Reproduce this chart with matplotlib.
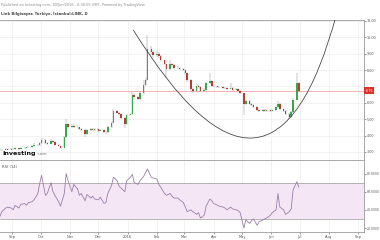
import numpy as np
import pandas as pd
import matplotlib
matplotlib.use("Agg")
import matplotlib.pyplot as plt
import matplotlib.dates as mdates
import matplotlib.transforms as mtransforms
from matplotlib.path import Path
from matplotlib.patches import PathPatch


# daily chart of Link Bilgisayar, sampled every 2nd trading day up to 30 Jun 2016
CLOSE = [3.10, 3.15, 3.12, 3.18, 3.15, 3.20, 3.17, 3.22, 3.20, 3.25,
         3.22, 3.28, 3.30, 3.35, 3.45, 3.40, 3.55, 3.75, 3.55, 3.50,
         3.70, 3.60, 3.45, 3.35, 3.25, 3.90, 4.70, 4.50, 4.60, 4.55,
         4.50, 4.40, 4.35, 4.10, 4.35, 4.40, 4.35, 4.38, 4.30, 4.35,
         4.25, 4.20, 4.50, 4.80, 5.50, 5.40, 5.30, 5.10, 4.70, 5.25,
         5.30, 6.50, 6.35, 6.25, 6.60, 7.10, 7.40, 9.30, 9.10, 8.90,
         9.00, 8.85, 8.60, 8.40, 8.05, 8.35, 8.30, 8.10, 8.15, 8.05,
         8.00, 7.80, 7.40, 6.85, 6.75, 7.05, 6.95, 6.75, 6.80, 7.20,
         7.35, 7.05, 7.00, 6.95, 6.95, 6.90, 6.92, 6.85, 6.90, 6.80,
         6.85, 6.75, 6.60, 5.90, 6.10, 5.95, 5.85, 5.75, 5.55, 5.50,
         5.55, 5.50, 5.55, 5.50, 5.55, 5.75, 5.95, 5.60, 5.50, 5.30,
         5.15, 5.45, 6.20, 7.20, 6.75]
HIGH = [3.18, 3.20, 3.20, 3.22, 3.22, 3.25, 3.24, 3.27, 3.26, 3.30,
        3.29, 3.33, 3.36, 3.42, 3.52, 3.50, 3.62, 3.88, 3.80, 3.60,
        3.78, 3.74, 3.64, 3.48, 3.38, 3.98, 5.00, 4.78, 4.70, 4.68,
        4.62, 4.55, 4.48, 4.40, 4.42, 4.48, 4.46, 4.45, 4.44, 4.42,
        4.40, 4.30, 4.58, 4.90, 5.65, 5.58, 5.45, 5.35, 5.15, 5.32,
        5.40, 6.68, 6.58, 6.42, 6.70, 7.40, 7.50, 10.15, 9.45, 9.20,
        9.15, 9.08, 8.92, 8.68, 8.45, 8.60, 8.42, 8.35, 8.24, 8.20,
        8.12, 8.05, 7.85, 7.45, 6.92, 7.15, 7.12, 7.00, 6.90, 7.30,
        7.80, 7.40, 7.10, 7.05, 7.02, 7.00, 6.98, 6.96, 7.20, 6.94,
        6.92, 6.90, 6.80, 6.62, 6.20, 6.15, 6.00, 5.90, 5.80, 5.60,
        5.62, 5.60, 5.60, 5.62, 5.60, 5.82, 6.10, 5.98, 5.65, 5.55,
        5.35, 5.52, 6.30, 7.80, 7.30]
LOW = [3.05, 3.07, 3.08, 3.10, 3.10, 3.12, 3.12, 3.14, 3.15, 3.17,
       3.18, 3.20, 3.24, 3.27, 3.32, 3.35, 3.37, 3.50, 3.48, 3.44,
       3.46, 3.54, 3.40, 3.30, 3.18, 3.22, 3.85, 4.42, 4.45, 4.48,
       4.42, 4.34, 4.28, 3.90, 4.05, 4.30, 4.28, 4.30, 4.24, 4.26,
       4.18, 4.12, 4.17, 4.45, 4.75, 5.32, 5.22, 5.02, 4.45, 4.65,
       5.18, 5.26, 6.25, 6.15, 6.20, 6.55, 7.05, 7.35, 8.95, 8.80,
       8.82, 8.75, 8.52, 8.32, 7.50, 8.00, 8.22, 8.02, 8.04, 7.98,
       7.92, 7.72, 7.30, 6.75, 6.60, 6.70, 6.88, 6.66, 6.70, 6.76,
       7.15, 6.98, 6.94, 6.90, 6.88, 6.85, 6.86, 6.80, 6.82, 6.74,
       6.76, 6.70, 6.52, 5.25, 5.85, 5.88, 5.78, 5.68, 5.48, 5.44,
       5.46, 5.45, 5.46, 5.45, 5.46, 5.52, 5.70, 5.55, 5.42, 5.24,
       5.00, 5.10, 5.40, 6.15, 6.65]
RSI = [29, 33, 38, 42, 43, 42, 40, 45, 42, 46,
       47, 45, 48, 49, 51, 58, 69, 78, 56, 58,
       70, 60, 56, 49, 44, 58, 80, 72, 60, 68,
       63, 56, 58, 50, 57, 53, 55, 52, 51, 54,
       47, 48, 58, 67, 76, 72, 66, 64, 60, 72,
       76, 79, 70, 68, 72, 77, 81, 85, 76, 75,
       74, 68, 65, 58, 56, 58, 55, 53, 53, 51,
       48, 43, 38, 40, 38, 35, 37, 31, 34, 44,
       52, 50, 47, 45, 44, 43, 42, 40, 43, 41,
       40, 39, 37, 20, 29, 25, 28, 30, 23, 27,
       29, 30, 31, 34, 37, 40, 58, 43, 40, 35,
       38, 41, 62, 71, 65]

LAST_PRICE = 6.75
PRICE_TICKS = [3, 4, 5, 6, 8, 9, 10, 11]
RSI_TICKS = [20, 40, 60, 80]
MONTH_LABELS = ['Sep', 'Oct', 'Nov', 'Dec', '2016', 'Feb', 'Mar',
                'Apr', 'May', 'Jun', 'Jul', 'Aug', 'Sep']

# cup drawing (quadratic curve: start, control, end)
CUP_DATES = ['2016-01-07', '2016-06-02', '2016-08-09']
CUP_PRICES = [10.45, -3.23, 11.43]

dates = pd.bdate_range(end='2016-06-30', periods=len(CLOSE), freq='2B')
close = np.array(CLOSE)
opens = np.concatenate([[CLOSE[0]], close[:-1]])
up = close >= opens

UP_COLOR = '#35a84a'
DOWN_COLOR = '#b83c34'
GRID = '#ededed'
LINE = '#9a9a9a'
TXT = '#555555'

fig = plt.figure(figsize=(3.8, 2.4), dpi=100)
ax = fig.add_axes([0, 80 / 240, 364 / 380, 140.5 / 240])
ax2 = fig.add_axes([0, 8 / 240, 364 / 380, 71 / 240], sharex=ax)

month_ticks = pd.date_range('2015-09-01', periods=len(MONTH_LABELS), freq='MS')
x0, x1 = pd.Timestamp('2015-08-19'), pd.Timestamp('2016-09-07')

# --- price panel
for d in month_ticks:
    ax.axvline(d, color=GRID, lw=0.5, zorder=0)
for p in PRICE_TICKS + [7]:
    ax.axhline(p, color=GRID, lw=0.5, zorder=0)
ax.axhline(LAST_PRICE, color='#f2a3a3', lw=0.6, zorder=1)

body_lo = np.minimum(opens, close)
body_h = np.maximum(np.abs(close - opens), 0.02)
colors = [UP_COLOR if u else DOWN_COLOR for u in up]
ax.vlines(dates, LOW, HIGH, color='#7a7a7a', lw=0.3, zorder=2)
ax.bar(dates, body_h, bottom=body_lo, width=1.6, color=colors, lw=0, zorder=3)

verts = [(mdates.date2num(pd.Timestamp(d)), p) for d, p in zip(CUP_DATES, CUP_PRICES)]
cup = PathPatch(Path(verts, [Path.MOVETO, Path.CURVE3, Path.CURVE3]),
                fc='none', ec='#4a4a4a', lw=0.6, zorder=4)
ax.add_patch(cup)

ax.set_ylim(2.51, 11.09)
ax.set_xlim(x0, x1)
ax.yaxis.tick_right()
ax.set_yticks(PRICE_TICKS)
ax.set_yticklabels(['%.2f' % p for p in PRICE_TICKS])
ax.tick_params(axis='y', labelsize=2.4, colors=TXT, length=1.2, width=0.4, pad=1.0)
ax.tick_params(axis='x', bottom=False, labelbottom=False)
ax.spines['left'].set_visible(False)
for s in ['top', 'right', 'bottom']:
    ax.spines[s].set_color(LINE)
    ax.spines[s].set_linewidth(0.6)

trans = mtransforms.blended_transform_factory(ax.transAxes, ax.transData)
ax.text(1.004, LAST_PRICE, '%.2f' % LAST_PRICE, transform=trans, fontsize=2.4,
        color='white', va='center', ha='left', zorder=10, clip_on=False,
        bbox=dict(boxstyle='square,pad=0.35', fc='#e0302b', ec='none'))

# --- rsi panel
for d in month_ticks:
    ax2.axvline(d, color=GRID, lw=0.5, zorder=0)
ax2.axhspan(30, 70, color='#f4e6f4', lw=0, zorder=0)
ax2.axhline(70, color=LINE, lw=0.5, zorder=1)
ax2.axhline(30, color=LINE, lw=0.5, zorder=1)
ax2.plot(dates, RSI, color='#9a7fa8', lw=0.6, zorder=3)
ax2.set_ylim(15.6, 93.8)
ax2.yaxis.tick_right()
ax2.set_yticks(RSI_TICKS)
ax2.set_yticklabels(['%.4f' % r for r in RSI_TICKS])
ax2.tick_params(axis='y', labelsize=2.2, colors=TXT, length=1.2, width=0.4, pad=0.8)
ax2.set_xticks(month_ticks)
ax2.set_xticklabels(MONTH_LABELS)
ax2.tick_params(axis='x', labelsize=2.6, colors=TXT, length=1.5, width=0.4, pad=0.8)
ax2.spines['left'].set_visible(False)
ax2.spines['top'].set_visible(False)
for s in ['right', 'bottom']:
    ax2.spines[s].set_color(LINE)
    ax2.spines[s].set_linewidth(0.6)
ax2.text(0.006, 0.92, 'RSI (14)', transform=ax2.transAxes, fontsize=2.7,
         color=TXT, va='center', ha='left')

# --- header and logo
fig.text(0.003, 1 - 5 / 240, 'Published on Investing.com, 30/Jun/2016 - 6:30:55 GMT, Powered by TradingView',
         fontsize=2.5, color='#888888', va='center', ha='left')
fig.text(0.003, 1 - 14 / 240, 'Link Bilgisayar, Türkiye, İstanbul:LINK, D',
         fontsize=2.7, color='#444444', va='center', ha='left', fontweight='bold')
fig.text(0.005, 1 - 153 / 240, 'Investing', fontsize=4.6, color='#111111',
         fontweight='bold', va='center', ha='left')
fig.text(0.097, 1 - 154 / 240, '.com', fontsize=3.2, color='#777777',
         va='center', ha='left')

fig.savefig('out.png', dpi=100)
